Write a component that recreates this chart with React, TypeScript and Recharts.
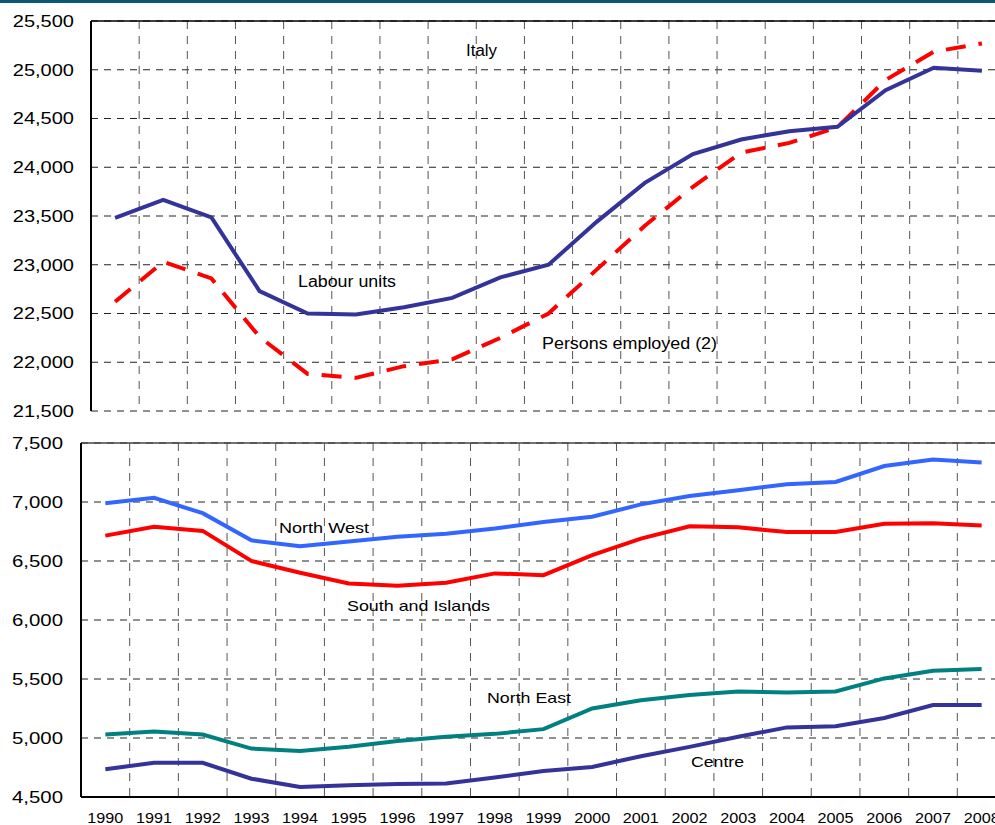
import { LineChart, Line, XAxis, YAxis, CartesianGrid, ReferenceLine } from 'recharts';

const years = [
  '1990', '1991', '1992', '1993', '1994', '1995', '1996', '1997', '1998', '1999',
  '2000', '2001', '2002', '2003', '2004', '2005', '2006', '2007', '2008',
];

// Italy, thousands
const labourUnits = [
  23480, 23665, 23485, 22730, 22500, 22490, 22565, 22660, 22870, 23000,
  23440, 23840, 24135, 24285, 24370, 24415, 24790, 25020, 24990,
];
const personsEmployed = [
  22620, 23030, 22860, 22260, 21880, 21840, 21960, 22030, 22250, 22500,
  22950, 23400, 23800, 24150, 24250, 24410, 24895, 25185, 25270,
];

// areas, labour units
const northWest = [
  6990, 7035, 6905, 6675, 6625, 6665, 6705, 6730, 6775, 6830,
  6875, 6980, 7050, 7100, 7150, 7170, 7305, 7360, 7335,
];
const southIslands = [
  6715, 6790, 6755, 6500, 6400, 6310, 6290, 6315, 6395, 6380,
  6550, 6690, 6795, 6785, 6745, 6745, 6815, 6820, 6800,
];
const northEast = [
  5030, 5055, 5030, 4910, 4890, 4925, 4975, 5010, 5035, 5075,
  5250, 5320, 5365, 5395, 5385, 5395, 5505, 5570, 5585,
];
const centre = [
  4735, 4790, 4790, 4655, 4585, 4600, 4610, 4615, 4665, 4720,
  4755, 4845, 4925, 5010, 5090, 5100, 5170, 5280, 5280,
];

const topTicks = [21500, 22000, 22500, 23000, 23500, 24000, 24500, 25000, 25500];
const bottomTicks = [4500, 5000, 5500, 6000, 6500, 7000, 7500];

const topData = years.map((year, i) => ({
  year,
  labour: labourUnits[i],
  persons: personsEmployed[i],
}));

const bottomData = years.map((year, i) => ({
  year,
  nw: northWest[i],
  south: southIslands[i],
  ne: northEast[i],
  centre: centre[i],
}));

const FONT = '"Liberation Sans", Arial, sans-serif';

const fmt = (v: number) => v.toLocaleString('en-US');

// grid lines sit on the borders between years, not on the points
const bandEdges = ({ offset }: any) => {
  const n = years.length;
  const out: number[] = [];
  for (let i = 1; i < n; i++) out.push(offset.left + (offset.width * i) / n);
  return out;
};

const YTick = ({ x, y, payload }: any) => {
  const label = fmt(payload.value);
  return (
    <text
      x={x}
      y={y}
      dy="0.36em"
      textAnchor="end"
      fontSize={16}
      fontFamily={FONT}
      fill="#000"
      textLength={label.length * 10.2}
      lengthAdjust="spacingAndGlyphs"
    >
      {label}
    </text>
  );
};

const XTick = ({ x, y, payload }: any) => (
  <text
    x={x}
    y={y + 26}
    textAnchor="middle"
    fontSize={15}
    fontFamily={FONT}
    fill="#000"
    textLength={36}
    lengthAdjust="spacingAndGlyphs"
  >
    {payload.value}
  </text>
);

const labels = [
  { text: 'Italy', x: 466, y: 56, w: 31, size: 16 },
  { text: 'Labour units', x: 298, y: 287, w: 98, size: 16 },
  { text: 'Persons employed (2)', x: 542, y: 349, w: 175, size: 16 },
  { text: 'North West', x: 279, y: 533, w: 90, size: 15 },
  { text: 'South and Islands', x: 347, y: 611, w: 143, size: 15 },
  { text: 'North East', x: 487, y: 703, w: 84, size: 15 },
  { text: 'Centre', x: 691, y: 767, w: 53, size: 15 },
];

export default function App() {
  return (
    <div
      style={{
        position: 'absolute',
        left: 0,
        top: 0,
        width: 995,
        height: 825,
        overflow: 'hidden',
        background: '#fff',
      }}
    >
      <div style={{ position: 'absolute', left: 0, top: 0, width: 995, height: 3, background: '#0b5877' }} />

      <div style={{ position: 'absolute', left: 0, top: 0 }}>
        <LineChart width={1010} height={424} data={topData} margin={{ top: 21, right: 4, bottom: 13, left: 0 }}>
          <CartesianGrid vertical={false} stroke="#222" strokeDasharray="7 6" />
          <CartesianGrid horizontal={false} stroke="#555" strokeDasharray="8 7" verticalCoordinatesGenerator={bandEdges} />
          <XAxis
            dataKey="year"
            scale="band"
            height={0}
            tick={false}
            tickLine={false}
            axisLine={{ stroke: '#000', strokeWidth: 2 }}
          />
          <YAxis
            width={91}
            domain={[21500, 25500]}
            ticks={topTicks}
            interval={0}
            tick={<YTick />}
            tickSize={0}
            tickMargin={17}
            tickLine={false}
            axisLine={{ stroke: '#000', strokeWidth: 2 }}
          />
          <ReferenceLine y={25500} stroke="#000" strokeWidth={1.5} />
          <Line
            type="linear"
            dataKey="persons"
            stroke="#ff0000"
            strokeWidth={4}
            strokeDasharray="20 13"
            dot={false}
            isAnimationActive={false}
          />
          <Line
            type="linear"
            dataKey="labour"
            stroke="#333399"
            strokeWidth={4}
            dot={false}
            isAnimationActive={false}
          />
        </LineChart>
      </div>

      <div style={{ position: 'absolute', left: 0, top: 425 }}>
        <LineChart width={1010} height={402} data={bottomData} margin={{ top: 18, right: 4, bottom: 0, left: 0 }}>
          <CartesianGrid vertical={false} stroke="#222" strokeDasharray="7 6" />
          <CartesianGrid horizontal={false} stroke="#555" strokeDasharray="8 7" verticalCoordinatesGenerator={bandEdges} />
          <XAxis
            dataKey="year"
            scale="band"
            height={30}
            interval={0}
            tick={<XTick />}
            tickSize={0}
            tickMargin={0}
            tickLine={false}
            axisLine={{ stroke: '#000', strokeWidth: 2 }}
          />
          <YAxis
            width={81}
            domain={[4500, 7500]}
            ticks={bottomTicks}
            interval={0}
            tick={<YTick />}
            tickSize={0}
            tickMargin={18}
            tickLine={false}
            axisLine={{ stroke: '#000', strokeWidth: 2 }}
          />
          <ReferenceLine y={7500} stroke="#444" strokeWidth={1.5} />
          <Line type="linear" dataKey="nw" stroke="#3366ff" strokeWidth={4} dot={false} isAnimationActive={false} />
          <Line type="linear" dataKey="south" stroke="#ff0000" strokeWidth={4} dot={false} isAnimationActive={false} />
          <Line type="linear" dataKey="ne" stroke="#008080" strokeWidth={4} dot={false} isAnimationActive={false} />
          <Line type="linear" dataKey="centre" stroke="#333399" strokeWidth={4} dot={false} isAnimationActive={false} />
        </LineChart>
      </div>

      <svg
        width={995}
        height={825}
        style={{ position: 'absolute', left: 0, top: 0, pointerEvents: 'none' }}
      >
        {labels.map((l) => (
          <text
            key={l.text}
            x={l.x}
            y={l.y}
            fontSize={l.size}
            fontFamily={FONT}
            fill="#000"
            textLength={l.w}
            lengthAdjust="spacingAndGlyphs"
          >
            {l.text}
          </text>
        ))}
      </svg>
    </div>
  );
}
